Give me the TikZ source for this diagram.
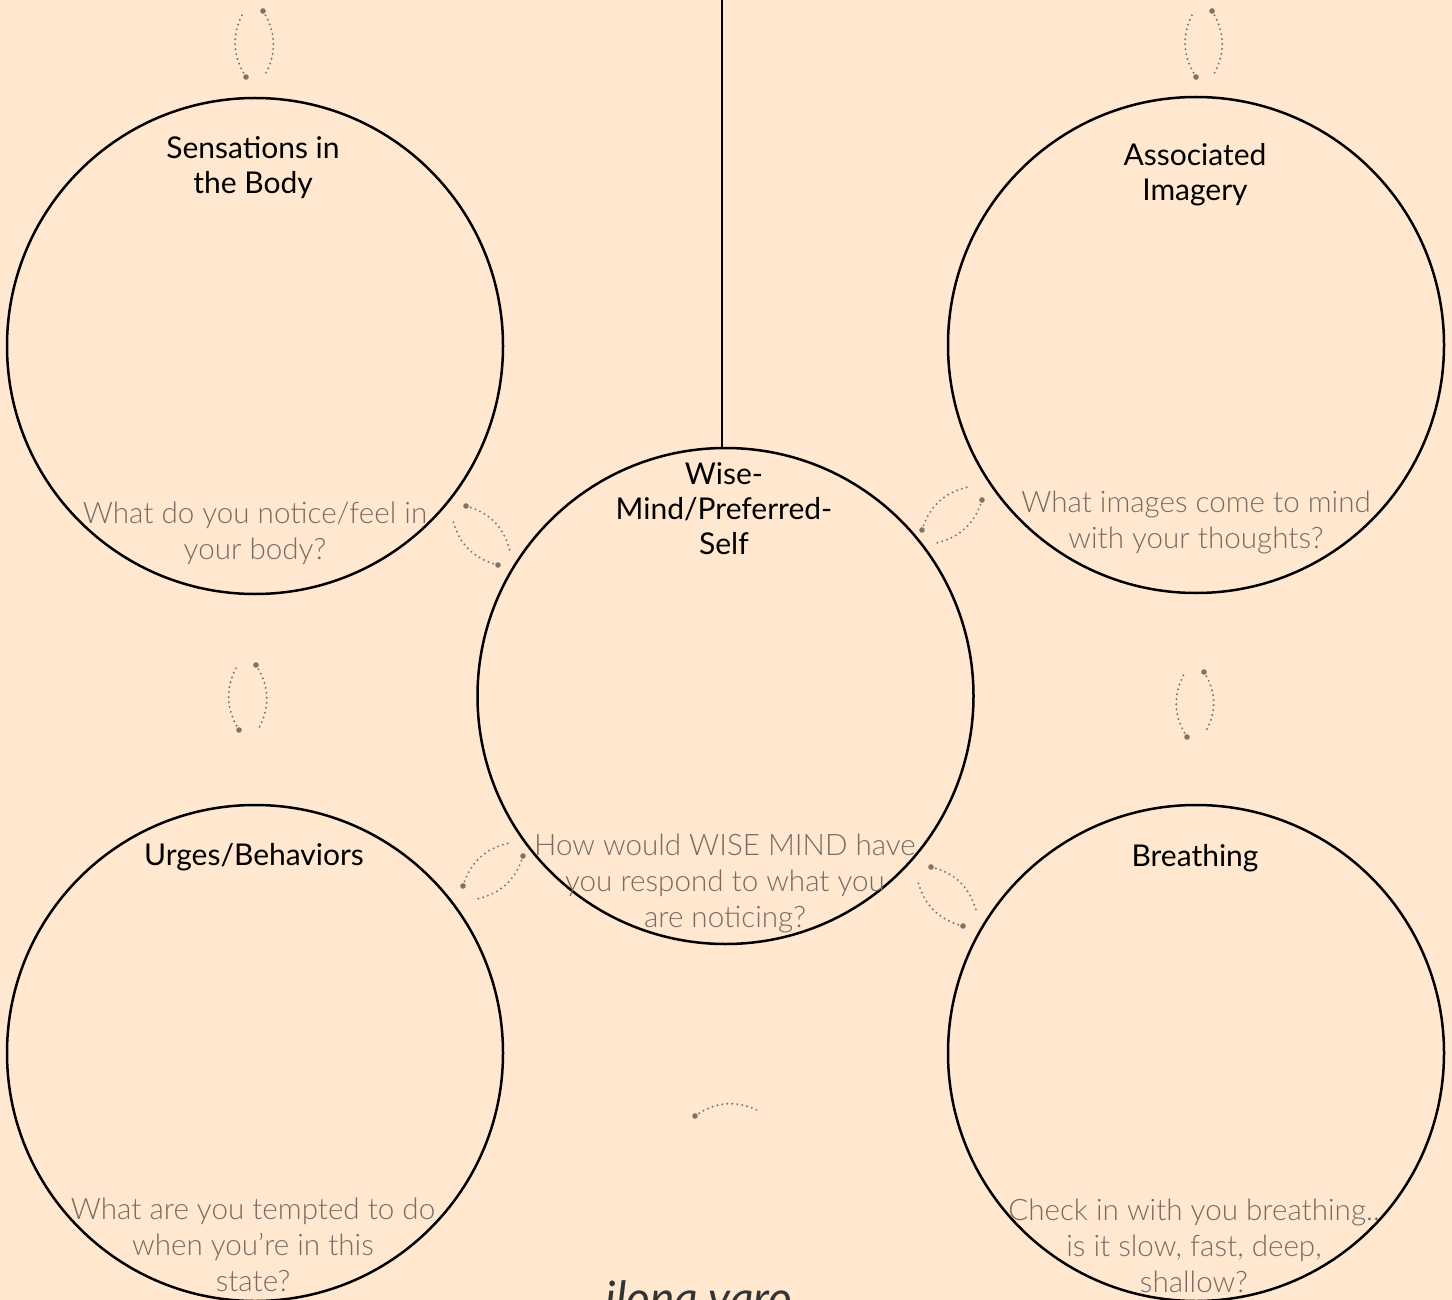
\documentclass[tikz,border=0pt]{standalone}
\usepackage{fontspec}
\setmainfont{Lato}
\newfontfamily\lightfont{Lato}[UprightFont={* Light}]
\usetikzlibrary{calc}
\definecolor{bgc}{RGB}{255,232,207}
\definecolor{graytxt}{RGB}{118,108,100}
\definecolor{dotc}{RGB}{125,115,105}
\tikzset{
  ring/.style={circle,draw=black,line width=2.5pt,minimum size=496pt,inner sep=0pt},
  title/.style={align=center,font=\fontsize{30}{35}\selectfont,text=black},
  prompt/.style={align=center,font=\lightfont\fontsize{29.6}{36}\selectfont,text=graytxt},
  dotline/.style={draw=dotc,line width=2.2pt,line cap=round,dash pattern=on 0pt off 5pt},
}
\newcommand\darc[2]{\draw[dotline] (#1) to[bend left=30] (#2); \fill[dotc] (#1) circle (2.8pt);}
\begin{document}
\begin{tikzpicture}[x=1pt,y=-1pt]
\fill[bgc] (0,0) rectangle (1452,1300);
\useasboundingbox (0,0) rectangle (1452,1300);
\begin{scope}
\clip (0,0) rectangle (1452,1300);
% circles
\node[ring] (tl) at (255,346) {};
\node[ring] (tr) at (1196,345) {};
\node[ring] (c) at (725.5,696) {};
\node[ring] (bl) at (255,1053) {};
\node[ring] (br) at (1196,1053) {};
\coordinate (top) at (722,0);
\draw[line width=2.5pt] (top) -- (top |- c.north);
% titles
\node[title] (t1) at (253,168) {Sensations in\\the Body};
\node[title] (t2) at (1195,175) {Associated\\Imagery};
\node[title] (t3) at (724,509) {Wise-\\Mind/Preferred-\\Self};
\node[title] (t4) at (254,857) {Urges/Behaviors};
\node[title] (t5) at (1195,858) {Breathing};
% prompts
\node[prompt] (p1) at (255,533) {What do you notice/feel in\\your body?};
\node[prompt] (p2) at (1196,522) {What images come to mind\\with your thoughts?};
\node[prompt] (p3) at (725,883) {How would WISE MIND have\\you respond to what you\\are noticing?};
\node[prompt] (p4) at (253,1245) {What are you tempted to do\\when you’re in this\\state?};
\node[prompt] (p5) at (1194,1246) {Check in with you breathing..\\is it slow, fast, deep,\\shallow?};
% dotted lenses
\darc{246,77}{243,13} \darc{263,11}{265,75}
\darc{1196,77}{1193,13} \darc{1212,11}{1214,74}
\darc{239,730}{237,666} \darc{256,665}{259,728}
\darc{1187,737}{1184,674} \darc{1204,672}{1206,731}
\darc{466,506}{510,551} \darc{498,565}{453,521}
\darc{922,530}{968,487} \darc{982,500}{936,543}
\darc{463,886}{509,843} \darc{523,856}{477,899}
\darc{931,867}{976,910} \darc{963,926}{918,882}
\darc{695,1116}{757,1110}
% signature
\node[anchor=base west,font=\itshape\fontsize{46}{46}\selectfont,text=black!80] (sig) at (602,1314) {ilona varo};
\end{scope}
\end{tikzpicture}
\end{document}
